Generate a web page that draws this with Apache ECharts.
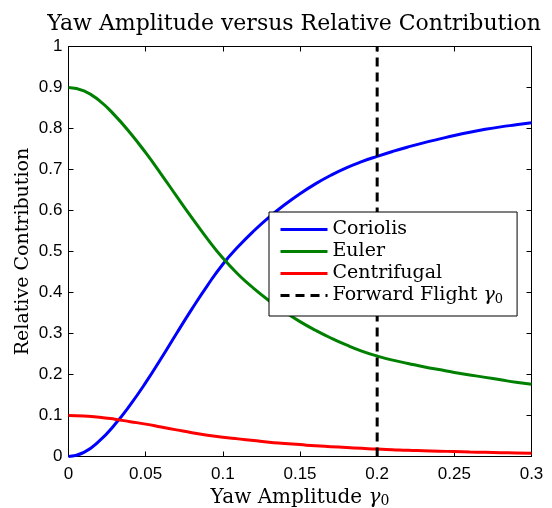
<!DOCTYPE html>
<html>
<head>
<meta charset="utf-8">
<script src="https://cdn.jsdelivr.net/npm/echarts@6/dist/echarts.min.js"></script>
<style>
  html, body { margin: 0; padding: 0; background: #fff; }
  #chart { width: 552px; height: 508px; }
</style>
</head>
<body>
<div id="chart"></div>
<script>
// Yaw amplitude samples (rad)
const gamma = [0, 0.01, 0.02, 0.03, 0.04, 0.05, 0.06, 0.07, 0.08, 0.09, 0.10,
  0.11, 0.12, 0.13, 0.14, 0.15, 0.16, 0.17, 0.18, 0.19, 0.20,
  0.21, 0.22, 0.23, 0.24, 0.25, 0.26, 0.27, 0.28, 0.29, 0.30];

const coriolis = [0, 0.010, 0.038, 0.078, 0.126, 0.180, 0.239, 0.300, 0.360, 0.417, 0.469,
  0.512, 0.550, 0.584, 0.614, 0.641, 0.665, 0.686, 0.704, 0.719, 0.732,
  0.744, 0.755, 0.765, 0.774, 0.783, 0.791, 0.798, 0.804, 0.809, 0.814];

const euler = [0.900, 0.892, 0.868, 0.832, 0.789, 0.741, 0.689, 0.635, 0.582, 0.531, 0.484,
  0.444, 0.410, 0.380, 0.353, 0.329, 0.308, 0.289, 0.272, 0.257, 0.245,
  0.235, 0.227, 0.219, 0.212, 0.205, 0.199, 0.193, 0.187, 0.181, 0.176];

const centrifugal = [0.100, 0.099, 0.096, 0.091, 0.085, 0.079, 0.072, 0.065, 0.058, 0.052, 0.047,
  0.043, 0.039, 0.035, 0.032, 0.029, 0.026, 0.024, 0.022, 0.020, 0.018,
  0.0165, 0.015, 0.014, 0.013, 0.012, 0.011, 0.0102, 0.0094, 0.0087, 0.008];

// Forward flight yaw amplitude marker
const forwardFlightGamma = 0.2;

const xTicks = ['0', '0.05', '0.1', '0.15', '0.2', '0.25', '0.3'];
const yTicks = ['0', '0.1', '0.2', '0.3', '0.4', '0.5', '0.6', '0.7', '0.8', '0.9', '1'];

const pairs = ys => gamma.map((g, i) => [g, ys[i]]);

const serif = 'DejaVu Serif';
const sans = 'Liberation Sans';

const chart = echarts.init(document.getElementById('chart'), null, { renderer: 'canvas' });

const baseX = {
  type: 'value', min: 0, max: 0.3, interval: 0.05,
  splitLine: { show: false },
  axisLine: { show: true, onZero: false, lineStyle: { color: '#000', width: 1 } },
  axisTick: { show: true, inside: true, length: 5, lineStyle: { color: '#000' } }
};
const baseY = {
  type: 'value', min: 0, max: 1, interval: 0.1,
  splitLine: { show: false },
  axisLine: { show: true, onZero: false, lineStyle: { color: '#000', width: 1 } },
  axisTick: { show: true, inside: true, length: 5, lineStyle: { color: '#000' } }
};

chart.setOption({
  animation: false,
  backgroundColor: '#fff',
  title: {
    text: 'Yaw Amplitude versus Relative Contribution',
    left: 289, top: 8, textAlign: 'center',
    textStyle: { fontFamily: serif, fontSize: 22, fontWeight: 'normal', color: '#000' }
  },
  grid: {
    left: 68.5, right: 20.5, top: 46.5, bottom: 51.5,
    containLabel: false, outerBoundsMode: 'none'
  },
  xAxis: [
    Object.assign({}, baseX, {
      position: 'bottom',
      axisLabel: {
        color: '#000', fontFamily: sans, fontSize: 17, margin: 9,
        formatter: v => xTicks[Math.round(v / 0.05)]
      },
      name: '{t|Yaw Amplitude }{g|γ}{s|0}',
      nameLocation: 'middle', nameGap: 29,
      nameTextStyle: {
        rich: {
          t: { fontFamily: serif, fontSize: 20, color: '#000' },
          g: { fontFamily: serif, fontSize: 20, fontStyle: 'italic', color: '#000' },
          s: { fontFamily: serif, fontSize: 14, color: '#000', padding: [8, 0, 0, 0] }
        }
      }
    }),
    Object.assign({}, baseX, { position: 'top', axisLabel: { show: false } })
  ],
  yAxis: [
    Object.assign({}, baseY, {
      position: 'left',
      axisLabel: {
        color: '#000', fontFamily: sans, fontSize: 17, margin: 6,
        formatter: v => yTicks[Math.round(v / 0.1)]
      },
      name: 'Relative Contribution',
      nameLocation: 'middle', nameGap: 36, nameMoveOverlap: false,
      nameTextStyle: { fontFamily: serif, fontSize: 19, color: '#000' }
    }),
    Object.assign({}, baseY, { position: 'right', axisLabel: { show: false } })
  ],
  legend: {
    orient: 'vertical',
    left: 269, top: 212,
    padding: [8, 14, 10, 10],
    itemGap: 3,
    itemWidth: 47, itemHeight: 14,
    backgroundColor: '#fff',
    borderColor: '#000', borderWidth: 1,
    borderRadius: 0,
    itemStyle: { opacity: 0 },
    lineStyle: { width: 3 },
    formatter: name => name === 'Forward Flight γ0' ? '{t|Forward Flight }{g|γ}{s|0}' : '{t|' + name + '}',
    textStyle: {
      color: '#000', fontFamily: serif, fontSize: 19,
      rich: {
        t: { fontFamily: serif, fontSize: 19, color: '#000' },
        g: { fontFamily: serif, fontSize: 19, fontStyle: 'italic', color: '#000' },
        s: { fontFamily: serif, fontSize: 13, color: '#000', padding: [8, 0, 0, 0] }
      }
    },
    data: ['Coriolis', 'Euler', 'Centrifugal', 'Forward Flight γ0']
  },
  series: [
    {
      name: 'Coriolis', type: 'line', data: pairs(coriolis), smooth: true,
      showSymbol: false, symbol: 'none',
      lineStyle: { color: '#0000ff', width: 3 }, itemStyle: { color: '#0000ff' }
    },
    {
      name: 'Euler', type: 'line', data: pairs(euler), smooth: true,
      showSymbol: false, symbol: 'none',
      lineStyle: { color: '#008000', width: 3 }, itemStyle: { color: '#008000' }
    },
    {
      name: 'Centrifugal', type: 'line', data: pairs(centrifugal), smooth: true,
      showSymbol: false, symbol: 'none',
      lineStyle: { color: '#ff0000', width: 3 }, itemStyle: { color: '#ff0000' }
    },
    {
      name: 'Forward Flight γ0', type: 'line',
      data: [[forwardFlightGamma, 0], [forwardFlightGamma, 1]],
      showSymbol: false, symbol: 'none',
      lineStyle: { color: '#000', width: 3, type: [9, 6] }, itemStyle: { color: '#000' }
    }
  ]
});
</script>
</body>
</html>
